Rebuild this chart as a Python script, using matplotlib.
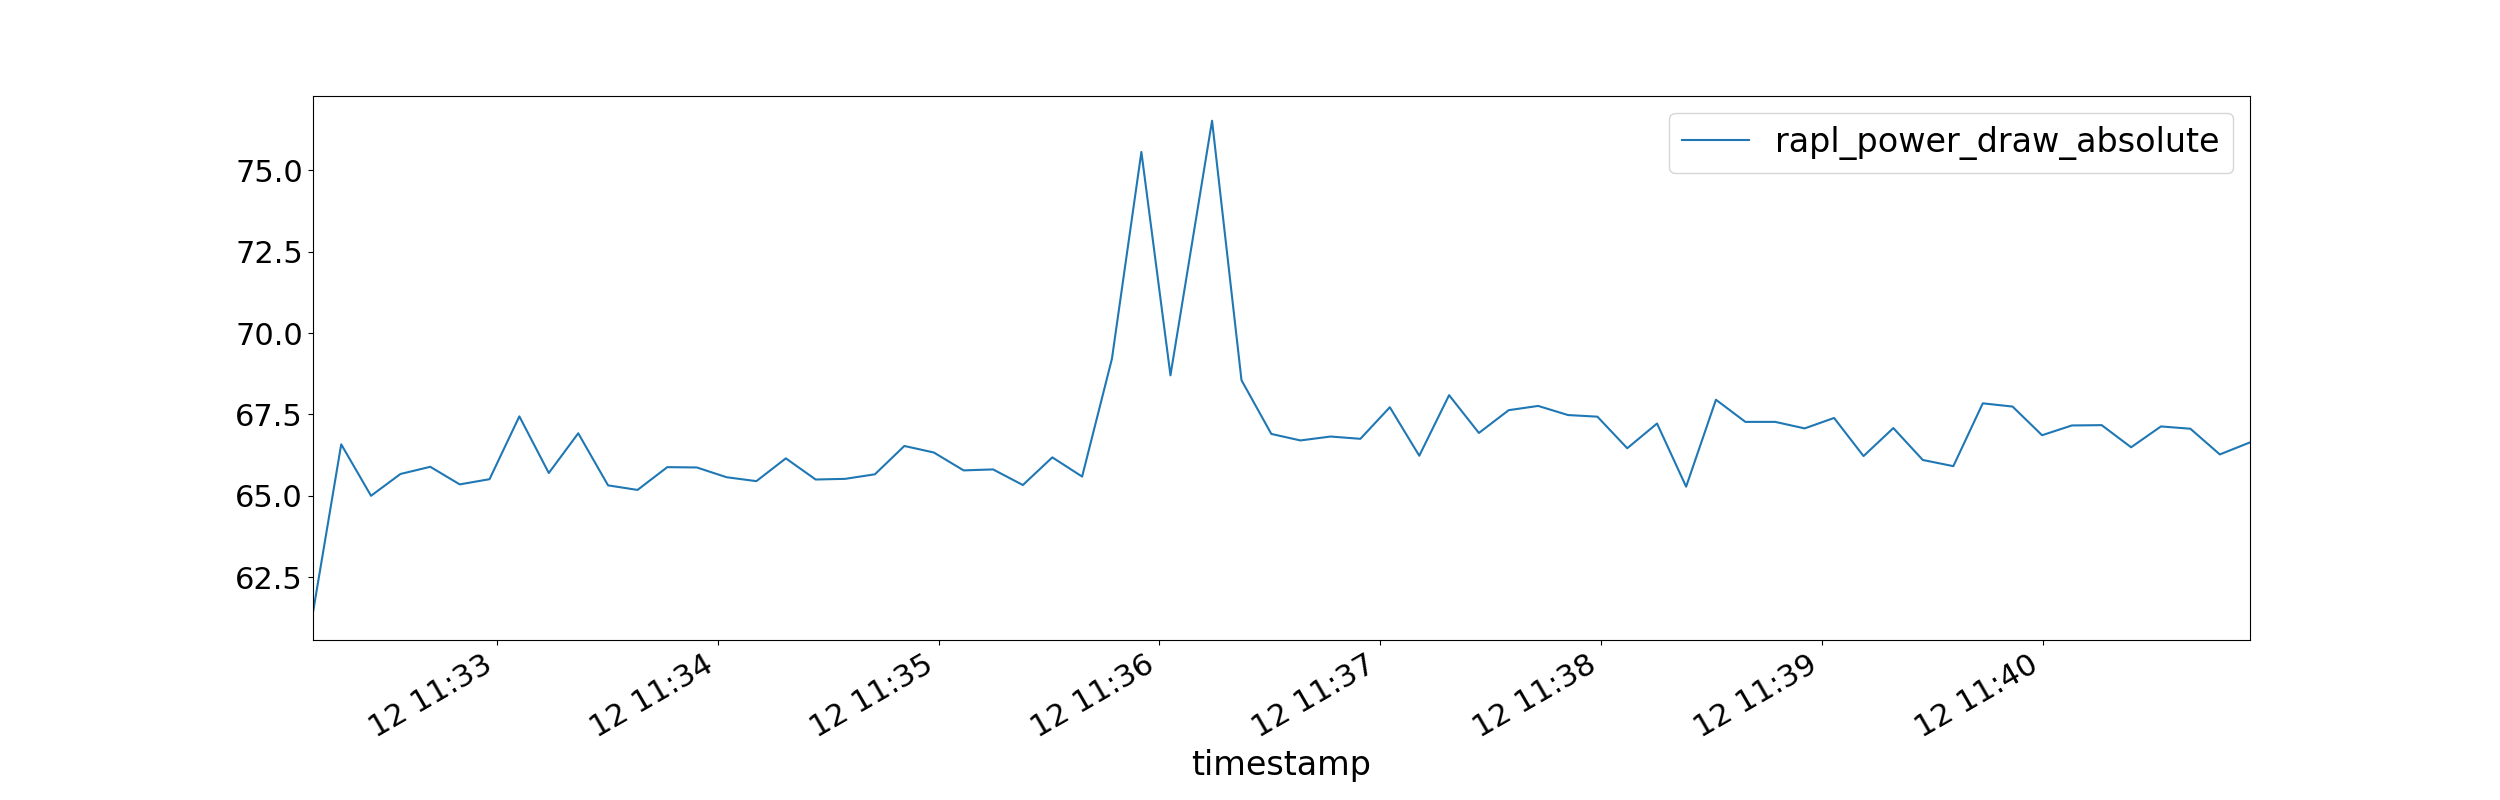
import matplotlib
matplotlib.use("Agg")
import matplotlib.pyplot as plt
import matplotlib.dates as mdates
from matplotlib.ticker import MultipleLocator
import pandas as pd

timestamps = [
    "11:32:09.9", "11:32:17.7", "11:32:25.8", "11:32:33.8", "11:32:41.9", "11:32:49.9",
    "11:32:58.0", "11:33:06.1", "11:33:14.1", "11:33:22.1", "11:33:30.2", "11:33:38.2",
    "11:33:46.3", "11:33:54.3", "11:34:02.4", "11:34:10.5", "11:34:18.5", "11:34:26.6",
    "11:34:34.6", "11:34:42.7", "11:34:50.7", "11:34:58.7", "11:35:06.8", "11:35:14.8",
    "11:35:22.9", "11:35:30.9", "11:35:39.0", "11:35:47.1", "11:35:55.1", "11:36:03.0",
    "11:36:14.3", "11:36:22.3", "11:36:30.4", "11:36:38.3", "11:36:46.5", "11:36:54.6",
    "11:37:02.6", "11:37:10.6", "11:37:18.7", "11:37:26.8", "11:37:34.9", "11:37:42.9",
    "11:37:51.0", "11:37:59.0", "11:38:07.1", "11:38:15.2", "11:38:23.1", "11:38:31.2",
    "11:38:39.2", "11:38:47.3", "11:38:55.3", "11:39:03.3", "11:39:11.3", "11:39:19.4",
    "11:39:27.4", "11:39:35.7", "11:39:43.7", "11:39:51.8", "11:39:59.8", "11:40:07.9",
    "11:40:16.0", "11:40:24.0", "11:40:32.1", "11:40:40.1", "11:40:48.1", "11:40:56.3",
]

rapl_power_draw_absolute = [
    61.33, 66.58, 65.00, 65.67, 65.89, 65.35, 65.51, 67.44, 65.70, 66.92, 65.32, 65.18,
    65.88, 65.87, 65.57, 65.45, 66.15, 65.50, 65.52, 65.66, 66.53, 66.33, 65.78, 65.81,
    65.33, 66.18, 65.59, 69.21, 75.56, 68.70, 76.52, 68.55, 66.90, 66.70, 66.82, 66.75,
    67.72, 66.23, 68.09, 66.93, 67.63, 67.76, 67.48, 67.43, 66.46, 67.22, 65.28, 67.95,
    67.27, 67.27, 67.07, 67.39, 66.22, 67.08, 66.10, 65.91, 67.84, 67.74, 66.86, 67.16,
    67.17, 66.49, 67.13, 67.06, 66.27, 66.64,
]

series_label = "rapl_power_draw_absolute"
x_label = "timestamp"

t = pd.to_datetime(["2023-06-12 " + s for s in timestamps])

plt.rcParams["font.size"] = 24
plt.rcParams["xtick.labelsize"] = 22
plt.rcParams["ytick.labelsize"] = 22
fig, ax = plt.subplots(figsize=(25, 8), dpi=100)
ax.plot(t, rapl_power_draw_absolute, color="#1f77b4", label=series_label)
ax.set_xlim(t[0], t[-1])
ax.xaxis.set_major_locator(mdates.MinuteLocator())
ax.xaxis.set_major_formatter(mdates.DateFormatter("%d %H:%M"))
ax.yaxis.set_major_locator(MultipleLocator(2.5))
ax.set_xlabel(x_label)
ax.legend(loc="upper right")
fig.autofmt_xdate()
fig.savefig("out.png", dpi=100)
